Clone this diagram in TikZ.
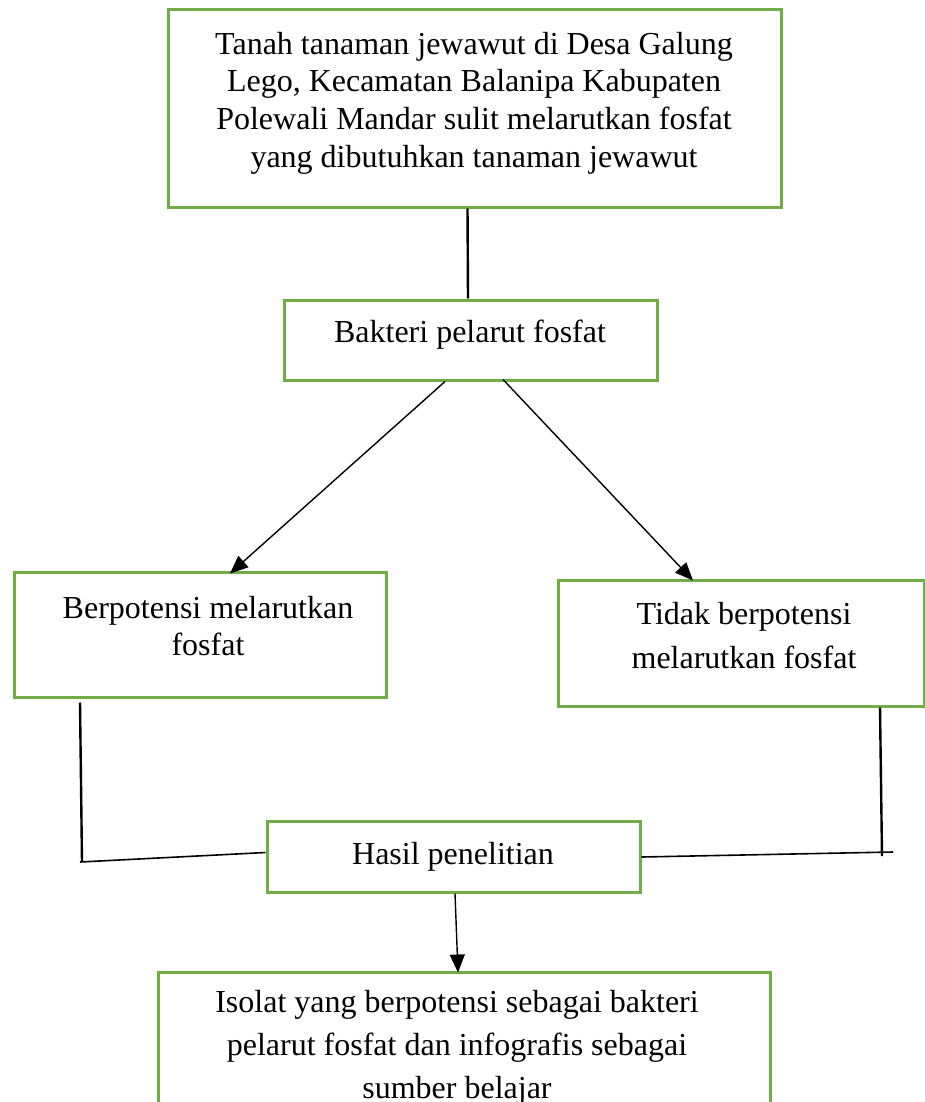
\documentclass[tikz,border=0pt]{standalone}
\usepackage{fontspec}
\setmainfont{Liberation Serif}
\usetikzlibrary{arrows.meta,calc}
\definecolor{boxgreen}{HTML}{70AD47}
\begin{document}
\begin{tikzpicture}[x=1pt,y=-1pt,
  box/.style={draw=boxgreen,line width=3pt,rectangle,inner sep=0pt},
  txt/.style={align=center,inner sep=0pt,font=\fontsize{32}{37.7}\selectfont},
  link/.style={draw=black,line width=2.4pt},
  thin link/.style={draw=black,line width=1.6pt},
  arr/.style={draw=black,line width=1.4pt,-{Triangle[length=18pt,width=15pt]}}]
\useasboundingbox (0,0) rectangle (924,1102);
\fill[white] (0,0) rectangle (924,1102);
% boxes
\node[box,minimum width=613pt,minimum height=197pt] (top) at (474.5,108.5) {};
\node[box,minimum width=373pt,minimum height=80pt] (bak) at (470.5,340) {};
\node[box,minimum width=372pt,minimum height=125pt] (left) at (200,634.5) {};
\node[box,minimum width=366pt,minimum height=126pt] (right) at (741,643) {};
\node[box,minimum width=373pt,minimum height=71pt] (hasil) at (453.5,856.5) {};
\node[box,minimum width=612pt,minimum height=148pt] (bottom) at (464,1046) {};
% texts
\node[txt] (topT) at (474,103)
  {Tanah tanaman jewawut di Desa Galung\\Lego, Kecamatan Balanipa Kabupaten\\Polewali Mandar sulit melarutkan fosfat\\yang dibutuhkan tanaman jewawut};
\node[txt] (bakT) at (470,335) {Bakteri pelarut fosfat};
\node[txt] (leftT) at (208,626) {Berpotensi melarutkan\\fosfat};
\node[txt,font=\fontsize{32}{44}\selectfont] (rightT) at (744,636) {Tidak berpotensi\\melarutkan fosfat};
\node[txt] (hasilT) at (453,857) {Hasil penelitian};
\node[txt,font=\fontsize{32}{43}\selectfont] (bottomT) at (457,1048)
  {Isolat yang berpotensi sebagai bakteri\\pelarut fosfat dan infografis sebagai\\sumber belajar};
% connectors
\draw[link] ([xshift=-7pt]top.south) -- ([xshift=-2.5pt]bak.north);
\draw[arr] ([xshift=-25.5pt]bak.south) -- ([xshift=30pt,yshift=-3pt]left.north);
\draw[arr] ([xshift=32.5pt,yshift=2pt]bak.south) -- ([xshift=-48pt,yshift=-2pt]right.north);
\coordinate (lc) at (82,862);
\draw[link] ([xshift=-120pt,yshift=-4pt]left.south) -- (lc);
\draw[thin link] ([xshift=-2pt]lc) -- ([yshift=4pt]hasil.west);
\coordinate (rc) at (893,852);
\draw[link] ([xshift=139pt]right.south) -- ([xshift=141pt,yshift=-4pt]right.south |- rc);
\draw[thin link] (rc) -- ([yshift=-0.5pt]hasil.east);
\draw[arr] ([xshift=1.5pt]hasil.south) -- ([xshift=-6pt,yshift=-2pt]bottom.north);
\end{tikzpicture}
\end{document}
